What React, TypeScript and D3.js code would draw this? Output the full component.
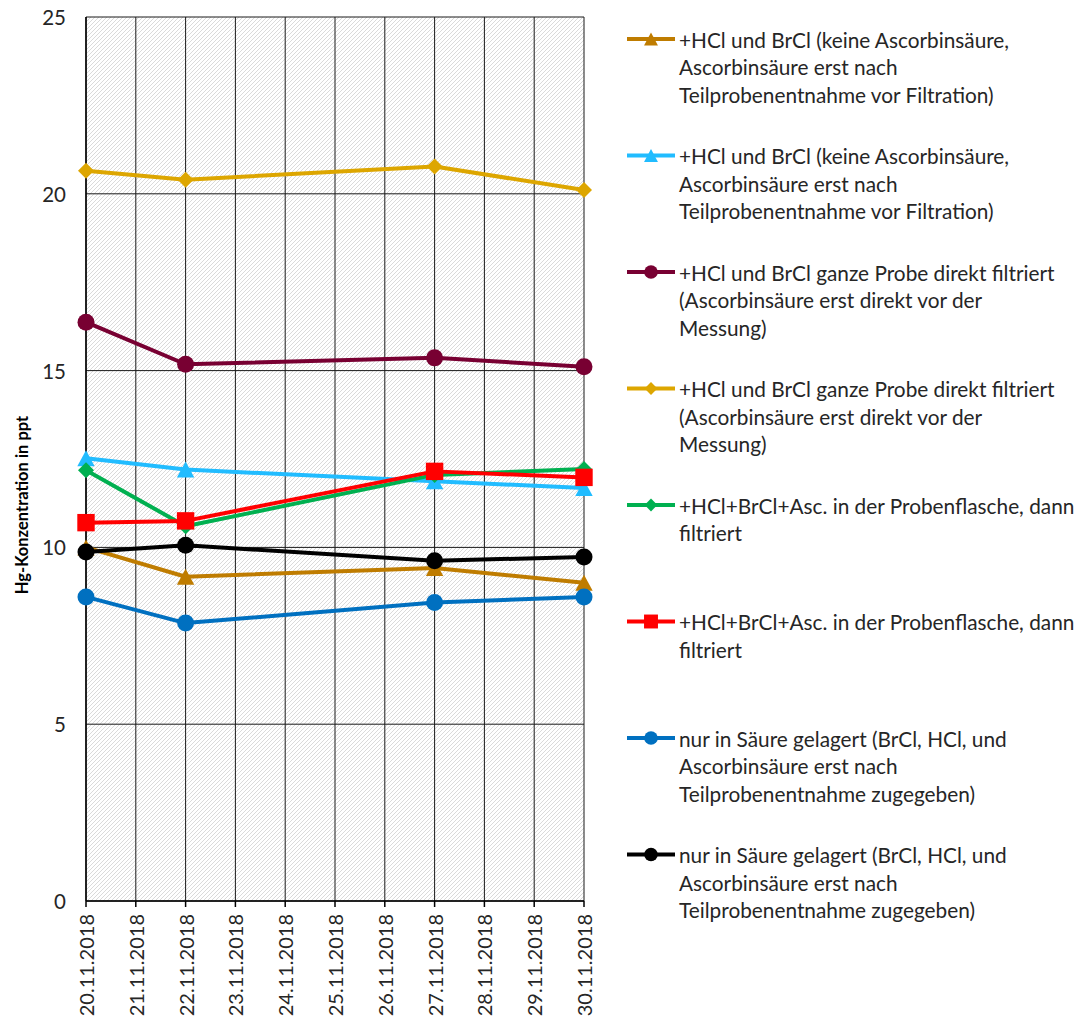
import React from "react";
import * as d3 from "d3";

const tickDates = [
  "20.11.2018", "21.11.2018", "22.11.2018", "23.11.2018", "24.11.2018", "25.11.2018",
  "26.11.2018", "27.11.2018", "28.11.2018", "29.11.2018", "30.11.2018",
];
const sampleDates = ["20.11.2018", "22.11.2018", "27.11.2018", "30.11.2018"];
const yTicks = [0, 5, 10, 15, 20, 25];

const brownTri = [10.0, 9.17, 9.42, 9.0];
const cyanTri = [12.52, 12.2, 11.87, 11.68];
const maroonCircle = [16.37, 15.18, 15.36, 15.11];
const goldDiamond = [20.65, 20.4, 20.77, 20.11];
const greenDiamond = [12.18, 10.6, 12.05, 12.22];
const redSquare = [10.7, 10.75, 12.15, 11.98];
const blueCircle = [8.6, 7.86, 8.44, 8.6];
const blackCircle = [9.87, 10.06, 9.62, 9.73];

const seriesValues = [brownTri, cyanTri, maroonCircle, goldDiamond, greenDiamond, redSquare, blueCircle, blackCircle];
const seriesColors = ["#BF7C00", "#21BCFF", "#780032", "#DDA600", "#00B050", "#FF0000", "#0070C0", "#000000"];
const seriesMarkers = ["triangle", "triangle", "circle", "diamond", "diamond", "square", "circle", "circle"];
const seriesLabels = [
  ["+HCl und BrCl (keine Ascorbinsäure,", "Ascorbinsäure erst nach", "Teilprobenentnahme vor Filtration)"],
  ["+HCl und BrCl (keine Ascorbinsäure,", "Ascorbinsäure erst nach", "Teilprobenentnahme vor Filtration)"],
  ["+HCl und BrCl ganze Probe direkt filtriert", "(Ascorbinsäure erst direkt vor der", "Messung)"],
  ["+HCl und BrCl ganze Probe direkt filtriert", "(Ascorbinsäure erst direkt vor der", "Messung)"],
  ["+HCl+BrCl+Asc. in der Probenflasche, dann", "filtriert"],
  ["+HCl+BrCl+Asc. in der Probenflasche, dann", "filtriert"],
  ["nur in Säure gelagert (BrCl, HCl, und", "Ascorbinsäure erst nach", "Teilprobenentnahme zugegeben)"],
  ["nur in Säure gelagert (BrCl, HCl, und", "Ascorbinsäure erst nach", "Teilprobenentnahme zugegeben)"],
];
const yTitle = "Hg-Konzentration in ppt";

const W = 1082;
const H = 1023;
const FONT = "Lato, 'Noto Sans', sans-serif";

function Marker({ type, x, y, color, s = 1 }: { type: string; x: number; y: number; color: string; s?: number }) {
  if (type === "circle") return <circle cx={x} cy={y} r={8.5 * s} fill={color} />;
  if (type === "square") {
    const h = 8.7 * s;
    return <rect x={x - h} y={y - h} width={2 * h} height={2 * h} fill={color} />;
  }
  if (type === "diamond") {
    const h = 8 * s;
    return <path d={`M${x},${y - h}L${x + h},${y}L${x},${y + h}L${x - h},${y}Z`} fill={color} />;
  }
  const w = 8.7 * s;
  const h = 8 * s;
  return <path d={`M${x},${y - h}L${x + w},${y + h}L${x - w},${y + h}Z`} fill={color} />;
}

export default function App() {
  const parse = d3.timeParse("%d.%m.%Y");
  const left = 86, right = 584, top = 17, bottom = 901;
  const x = d3
    .scaleTime()
    .domain([parse(tickDates[0])!, parse(tickDates[tickDates.length - 1])!])
    .range([left, right]);
  const y = d3.scaleLinear().domain([0, 25]).range([bottom, top]);
  const line = d3
    .line<number>()
    .x((_, i) => x(parse(sampleDates[i])!))
    .y((v) => y(v));

  const legendX0 = 627, legendX1 = 675, legendTextX = 679;
  const legendTop = 39, legendStep = 116.5, lineH = 27.5;

  return (
    <svg width={W} height={H} style={{ position: "absolute", left: 0, top: 0, background: "#fff" }} fontFamily={FONT}>
      <defs>
        <pattern id="hatch" patternUnits="userSpaceOnUse" width={4} height={4}>
          <rect width={4} height={4} fill="#fff" />
          <path d="M-1,1L1,-1M0,4L4,0M3,5L5,3" stroke="#d6d6d6" strokeWidth={0.9} />
        </pattern>
      </defs>
      <rect x={left} y={top} width={right - left} height={bottom - top} fill="url(#hatch)" />
      {tickDates.map((d) => (
        <line key={d} x1={x(parse(d)!)} x2={x(parse(d)!)} y1={top} y2={bottom} stroke="#1a1a1a" strokeWidth={1} />
      ))}
      {yTicks.map((t) => (
        <line key={t} x1={left} x2={right} y1={y(t)} y2={y(t)} stroke="#1a1a1a" strokeWidth={1} />
      ))}
      <line x1={left} x2={right} y1={bottom} y2={bottom} stroke="#000" strokeWidth={1.5} />
      <line x1={left} x2={left} y1={top} y2={bottom} stroke="#000" strokeWidth={1.5} />
      {tickDates.map((d) => (
        <line key={"t" + d} x1={x(parse(d)!)} x2={x(parse(d)!)} y1={bottom} y2={bottom + 6} stroke="#000" strokeWidth={1.5} />
      ))}
      {yTicks.map((t) => (
        <text key={"l" + t} x={66} y={y(t)} textAnchor="end" dominantBaseline="central" fontSize={20.5} fill="#262626">
          {t}
        </text>
      ))}
      {tickDates.map((d) => (
        <text
          key={"x" + d}
          transform={`translate(${x(parse(d)!)},914) rotate(-90)`}
          textAnchor="end"
          dominantBaseline="central"
          fontSize={20}
          fill="#262626"
        >
          {d}
        </text>
      ))}
      <text
        transform={`translate(22,505) rotate(-90)`}
        textAnchor="middle"
        dominantBaseline="central"
        fontSize={16.5}
        fontWeight="bold"
        fill="#000"
      >
        {yTitle}
      </text>
      {seriesValues.map((vals, si) => (
        <g key={"s" + si}>
          <path d={line(vals)!} fill="none" stroke={seriesColors[si]} strokeWidth={4} strokeLinejoin="round" />
          {vals.map((v, i) => (
            <Marker key={i} type={seriesMarkers[si]} x={x(parse(sampleDates[i])!)} y={y(v)} color={seriesColors[si]} />
          ))}
        </g>
      ))}
      {seriesLabels.map((lines, si) => {
        const cy = legendTop + si * legendStep;
        return (
          <g key={"lg" + si}>
            <line x1={legendX0} x2={legendX1} y1={cy} y2={cy} stroke={seriesColors[si]} strokeWidth={4} />
            <Marker type={seriesMarkers[si]} x={(legendX0 + legendX1) / 2} y={cy} color={seriesColors[si]} s={0.8} />
            {lines.map((l, li) => (
              <text key={li} x={legendTextX} y={cy + li * lineH} dominantBaseline="central" fontSize={20.8} fill="#262626">
                {l}
              </text>
            ))}
          </g>
        );
      })}
    </svg>
  );
}
